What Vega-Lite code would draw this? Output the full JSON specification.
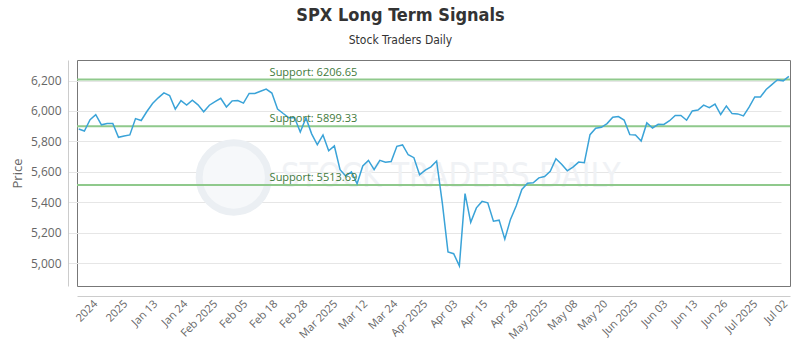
{
  "$schema": "https://vega.github.io/schema/vega-lite/v6.json",
  "width": 713,
  "height": 226,
  "autosize": {"type": "none"},
  "padding": {"left": 77, "top": 60, "right": 10, "bottom": 64},
  "background": "#ffffff",
  "title": {
    "text": "SPX Long Term Signals",
    "subtitle": "Stock Traders Daily",
    "anchor": "middle",
    "frame": "group",
    "dx": -33,
    "offset": 14,
    "font": "Liberation Sans Narrow, DejaVu Sans Condensed, sans-serif",
    "fontSize": 18,
    "fontWeight": "bold",
    "color": "#333333",
    "subtitleFont": "Liberation Sans Narrow, DejaVu Sans Condensed, sans-serif",
    "subtitleFontSize": 12,
    "subtitleColor": "#333333",
    "subtitlePadding": 10
  },
  "config": {
    "view": {"stroke": "#777777", "strokeWidth": 1},
    "axis": {"labelFont": "Open Sans", "titleFont": "Open Sans"},
    "axisX": {
      "labelExpr": "['2024','2025','Jan 13','Jan 24','Feb 2025','Feb 05','Feb 18','Feb 28','Mar 2025','Mar 12','Mar 24','Apr 2025','Apr 03','Apr 15','Apr 28','May 2025','May 08','May 20','Jun 2025','Jun 03','Jun 13','Jun 26','Jul 2025','Jul 02'][round((datum.value - 2.97) / 5.2808)]",
      "tickCount": 40,
      "labelOverlap": false,
      "labelBound": false,
      "labelFlush": false,
      "labelAngle": -45,
      "labelAlign": "right",
      "labelBaseline": "middle",
      "labelFontSize": 11,
      "labelColor": "#666666",
      "labelPadding": 6,
      "grid": false,
      "ticks": false,
      "domainColor": "#cccccc",
      "offset": 10
    },
    "axisY": {
      "labelExpr": "format(datum.value, ',')",
      "tickCount": 20,
      "labelOverlap": false,
      "grid": true,
      "gridColor": "#e6e6e6",
      "ticks": false,
      "domainColor": "#cccccc",
      "offset": 9,
      "labelPadding": 7,
      "labelFontSize": 12,
      "labelColor": "#666666",
      "titleFontSize": 13,
      "titleFontWeight": "normal",
      "titleColor": "#666666",
      "titlePadding": 6
    }
  },
  "datasets": {
    "prices": [
      {"date": "2024-12-31", "i": 0, "close": 5881.63},
      {"date": "2025-01-02", "i": 1, "close": 5868.55},
      {"date": "2025-01-03", "i": 2, "close": 5942.47},
      {"date": "2025-01-06", "i": 3, "close": 5975.38},
      {"date": "2025-01-07", "i": 4, "close": 5909.03},
      {"date": "2025-01-08", "i": 5, "close": 5918.25},
      {"date": "2025-01-09", "i": 6, "close": 5918.25},
      {"date": "2025-01-10", "i": 7, "close": 5827.04},
      {"date": "2025-01-13", "i": 8, "close": 5836.22},
      {"date": "2025-01-14", "i": 9, "close": 5842.91},
      {"date": "2025-01-15", "i": 10, "close": 5949.91},
      {"date": "2025-01-16", "i": 11, "close": 5937.34},
      {"date": "2025-01-17", "i": 12, "close": 5996.66},
      {"date": "2025-01-21", "i": 13, "close": 6049.24},
      {"date": "2025-01-22", "i": 14, "close": 6086.37},
      {"date": "2025-01-23", "i": 15, "close": 6118.71},
      {"date": "2025-01-24", "i": 16, "close": 6101.24},
      {"date": "2025-01-27", "i": 17, "close": 6012.28},
      {"date": "2025-01-28", "i": 18, "close": 6067.70},
      {"date": "2025-01-29", "i": 19, "close": 6039.31},
      {"date": "2025-01-30", "i": 20, "close": 6071.17},
      {"date": "2025-01-31", "i": 21, "close": 6040.53},
      {"date": "2025-02-03", "i": 22, "close": 5994.57},
      {"date": "2025-02-04", "i": 23, "close": 6037.88},
      {"date": "2025-02-05", "i": 24, "close": 6061.48},
      {"date": "2025-02-06", "i": 25, "close": 6083.57},
      {"date": "2025-02-07", "i": 26, "close": 6025.99},
      {"date": "2025-02-10", "i": 27, "close": 6066.44},
      {"date": "2025-02-11", "i": 28, "close": 6068.50},
      {"date": "2025-02-12", "i": 29, "close": 6051.97},
      {"date": "2025-02-13", "i": 30, "close": 6115.07},
      {"date": "2025-02-14", "i": 31, "close": 6114.63},
      {"date": "2025-02-18", "i": 32, "close": 6129.58},
      {"date": "2025-02-19", "i": 33, "close": 6144.15},
      {"date": "2025-02-20", "i": 34, "close": 6117.52},
      {"date": "2025-02-21", "i": 35, "close": 6013.13},
      {"date": "2025-02-24", "i": 36, "close": 5983.25},
      {"date": "2025-02-25", "i": 37, "close": 5955.25},
      {"date": "2025-02-26", "i": 38, "close": 5956.06},
      {"date": "2025-02-27", "i": 39, "close": 5861.57},
      {"date": "2025-02-28", "i": 40, "close": 5954.50},
      {"date": "2025-03-03", "i": 41, "close": 5849.72},
      {"date": "2025-03-04", "i": 42, "close": 5778.15},
      {"date": "2025-03-05", "i": 43, "close": 5842.63},
      {"date": "2025-03-06", "i": 44, "close": 5738.52},
      {"date": "2025-03-07", "i": 45, "close": 5770.20},
      {"date": "2025-03-10", "i": 46, "close": 5614.56},
      {"date": "2025-03-11", "i": 47, "close": 5572.07},
      {"date": "2025-03-12", "i": 48, "close": 5599.30},
      {"date": "2025-03-13", "i": 49, "close": 5521.52},
      {"date": "2025-03-14", "i": 50, "close": 5638.94},
      {"date": "2025-03-17", "i": 51, "close": 5675.12},
      {"date": "2025-03-18", "i": 52, "close": 5614.66},
      {"date": "2025-03-19", "i": 53, "close": 5675.29},
      {"date": "2025-03-20", "i": 54, "close": 5662.89},
      {"date": "2025-03-21", "i": 55, "close": 5667.56},
      {"date": "2025-03-24", "i": 56, "close": 5767.57},
      {"date": "2025-03-25", "i": 57, "close": 5776.65},
      {"date": "2025-03-26", "i": 58, "close": 5712.20},
      {"date": "2025-03-27", "i": 59, "close": 5693.31},
      {"date": "2025-03-28", "i": 60, "close": 5580.94},
      {"date": "2025-03-31", "i": 61, "close": 5611.85},
      {"date": "2025-04-01", "i": 62, "close": 5633.07},
      {"date": "2025-04-02", "i": 63, "close": 5670.97},
      {"date": "2025-04-03", "i": 64, "close": 5396.52},
      {"date": "2025-04-04", "i": 65, "close": 5074.08},
      {"date": "2025-04-07", "i": 66, "close": 5062.25},
      {"date": "2025-04-08", "i": 67, "close": 4982.77},
      {"date": "2025-04-09", "i": 68, "close": 5456.90},
      {"date": "2025-04-10", "i": 69, "close": 5268.05},
      {"date": "2025-04-11", "i": 70, "close": 5363.36},
      {"date": "2025-04-14", "i": 71, "close": 5405.97},
      {"date": "2025-04-15", "i": 72, "close": 5396.63},
      {"date": "2025-04-16", "i": 73, "close": 5275.70},
      {"date": "2025-04-17", "i": 74, "close": 5282.70},
      {"date": "2025-04-21", "i": 75, "close": 5158.20},
      {"date": "2025-04-22", "i": 76, "close": 5287.76},
      {"date": "2025-04-23", "i": 77, "close": 5375.86},
      {"date": "2025-04-24", "i": 78, "close": 5484.77},
      {"date": "2025-04-25", "i": 79, "close": 5525.21},
      {"date": "2025-04-28", "i": 80, "close": 5528.75},
      {"date": "2025-04-29", "i": 81, "close": 5560.83},
      {"date": "2025-04-30", "i": 82, "close": 5569.06},
      {"date": "2025-05-01", "i": 83, "close": 5604.14},
      {"date": "2025-05-02", "i": 84, "close": 5686.67},
      {"date": "2025-05-05", "i": 85, "close": 5650.38},
      {"date": "2025-05-06", "i": 86, "close": 5606.91},
      {"date": "2025-05-07", "i": 87, "close": 5631.28},
      {"date": "2025-05-08", "i": 88, "close": 5663.94},
      {"date": "2025-05-09", "i": 89, "close": 5659.91},
      {"date": "2025-05-12", "i": 90, "close": 5844.19},
      {"date": "2025-05-13", "i": 91, "close": 5886.55},
      {"date": "2025-05-14", "i": 92, "close": 5892.58},
      {"date": "2025-05-15", "i": 93, "close": 5916.93},
      {"date": "2025-05-16", "i": 94, "close": 5958.38},
      {"date": "2025-05-19", "i": 95, "close": 5963.60},
      {"date": "2025-05-20", "i": 96, "close": 5940.46},
      {"date": "2025-05-21", "i": 97, "close": 5844.61},
      {"date": "2025-05-22", "i": 98, "close": 5842.01},
      {"date": "2025-05-23", "i": 99, "close": 5802.82},
      {"date": "2025-05-27", "i": 100, "close": 5921.54},
      {"date": "2025-05-28", "i": 101, "close": 5888.55},
      {"date": "2025-05-29", "i": 102, "close": 5912.17},
      {"date": "2025-05-30", "i": 103, "close": 5911.69},
      {"date": "2025-06-02", "i": 104, "close": 5935.94},
      {"date": "2025-06-03", "i": 105, "close": 5970.37},
      {"date": "2025-06-04", "i": 106, "close": 5970.81},
      {"date": "2025-06-05", "i": 107, "close": 5939.30},
      {"date": "2025-06-06", "i": 108, "close": 6000.36},
      {"date": "2025-06-09", "i": 109, "close": 6005.88},
      {"date": "2025-06-10", "i": 110, "close": 6038.81},
      {"date": "2025-06-11", "i": 111, "close": 6022.24},
      {"date": "2025-06-12", "i": 112, "close": 6045.26},
      {"date": "2025-06-13", "i": 113, "close": 5976.97},
      {"date": "2025-06-16", "i": 114, "close": 6033.11},
      {"date": "2025-06-17", "i": 115, "close": 5982.72},
      {"date": "2025-06-18", "i": 116, "close": 5980.87},
      {"date": "2025-06-20", "i": 117, "close": 5967.84},
      {"date": "2025-06-23", "i": 118, "close": 6025.17},
      {"date": "2025-06-24", "i": 119, "close": 6092.18},
      {"date": "2025-06-25", "i": 120, "close": 6092.16},
      {"date": "2025-06-26", "i": 121, "close": 6141.02},
      {"date": "2025-06-27", "i": 122, "close": 6173.07},
      {"date": "2025-06-30", "i": 123, "close": 6204.95},
      {"date": "2025-07-01", "i": 124, "close": 6198.01},
      {"date": "2025-07-02", "i": 125, "close": 6227.42}
    ],
    "supports": [
      {"level": 6206.65, "label": "Support: 6206.65"},
      {"level": 5899.33, "label": "Support: 5899.33"},
      {"level": 5513.69, "label": "Support: 5513.69"}
    ],
    "watermark": [
      {"text": "STOCK TRADERS DAILY"}
    ]
  },
  "layer": [
    {
      "data": {"name": "watermark"},
      "mark": {"type": "point", "shape": "circle", "size": 4800, "filled": false, "stroke": "#ebeff3", "strokeWidth": 7, "fill": "#f6f8fa", "fillOpacity": 1},
      "encoding": {
        "x": {"datum": 27.3, "type": "quantitative"},
        "y": {"datum": 5563, "type": "quantitative"}
      }
    },
    {
      "data": {"name": "watermark"},
      "mark": {"type": "text", "font": "Liberation Sans Narrow, DejaVu Sans Condensed, sans-serif", "fontSize": 33, "color": "#f0f2f5", "align": "center", "baseline": "middle"},
      "encoding": {
        "x": {"datum": 65.5, "type": "quantitative"},
        "y": {"datum": 5563, "type": "quantitative"},
        "text": {"field": "text"}
      }
    },
    {
      "data": {"name": "supports"},
      "mark": {"type": "rule", "color": "#8fc98c", "strokeWidth": 2},
      "encoding": {
        "y": {"field": "level", "type": "quantitative"}
      }
    },
    {
      "data": {"name": "prices"},
      "mark": {"type": "line", "color": "#3aa3d8", "strokeWidth": 1.5, "interpolate": "linear"},
      "encoding": {
        "x": {
          "field": "i",
          "type": "quantitative",
          "scale": {"domain": [-0.3, 125.2], "nice": false, "zero": false},
          "axis": {
            "title": null,
            "values": [2.97, 8.25, 13.53, 18.81, 24.09, 29.37, 34.65, 39.93, 45.21, 50.49, 55.77, 61.05, 66.34, 71.62, 76.90, 82.18, 87.46, 92.74, 98.02, 103.30, 108.58, 113.86, 119.14, 124.42]
          }
        },
        "y": {
          "field": "close",
          "type": "quantitative",
          "scale": {"domain": [4850, 6335], "nice": false, "zero": false},
          "axis": {
            "title": "Price",
            "values": [5000, 5200, 5400, 5600, 5800, 6000, 6200]
          }
        }
      }
    },
    {
      "data": {"name": "supports"},
      "mark": {"type": "text", "align": "left", "baseline": "bottom", "dy": -2, "font": "Open Sans", "fontSize": 11, "color": "#3f7a3c"},
      "encoding": {
        "x": {"datum": 33.6, "type": "quantitative"},
        "y": {"field": "level", "type": "quantitative"},
        "text": {"field": "label"}
      }
    }
  ]
}
